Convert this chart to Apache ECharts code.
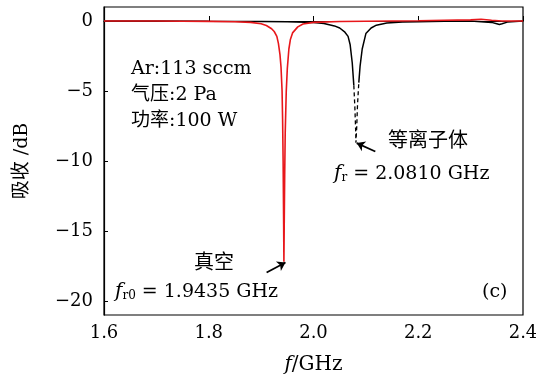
<!DOCTYPE html>
<html>
<head>
<meta charset="utf-8">
<script src="https://cdn.jsdelivr.net/npm/echarts@6/dist/echarts.min.js"></script>
<style>
html, body { margin: 0; padding: 0; background: #fff; }
#chart { width: 536px; height: 378px; }
</style>
</head>
<body>
<div id="chart"></div>
<script>
// 真空 (red) 频率 / 吸收
var redF = [1.60, 1.65, 1.70, 1.75, 1.80, 1.85, 1.88, 1.90, 1.91, 1.92, 1.925, 1.93, 1.933, 1.936, 1.938, 1.940, 1.941, 1.942, 1.943, 1.9435, 1.944, 1.945, 1.946, 1.948, 1.950, 1.953, 1.956, 1.96, 1.97, 1.98, 2.00, 2.05, 2.10, 2.15, 2.20, 2.25, 2.30, 2.32, 2.34, 2.36, 2.38, 2.40];
var redDb = [0, 0, 0, -0.02, -0.03, -0.05, -0.1, -0.2, -0.32, -0.55, -0.75, -1.1, -1.6, -2.4, -3.3, -5.0, -7.0, -10.0, -14.5, -17.2, -15.0, -11.0, -8.0, -5.0, -3.4, -2.0, -1.3, -0.85, -0.42, -0.22, -0.1, -0.04, -0.02, 0, 0.02, 0.05, 0.08, 0.12, 0.05, 0, 0, 0];

// 等离子体 (black)
var blackF = [1.60, 1.70, 1.80, 1.90, 1.95, 2.00, 2.02, 2.04, 2.05, 2.06, 2.066, 2.07, 2.074, 2.077, 2.079, 2.0805, 2.081, 2.0825, 2.084, 2.0865, 2.089, 2.093, 2.10, 2.11, 2.12, 2.14, 2.17, 2.20, 2.25, 2.30, 2.34, 2.35, 2.355, 2.36, 2.37, 2.40];
var blackDb = [0, 0, -0.02, -0.03, -0.05, -0.1, -0.18, -0.35, -0.5, -0.8, -1.1, -1.7, -3.0, -4.6, -6.2, -7.8, -8.7, -7.6, -6.0, -4.4, -3.2, -2.0, -0.9, -0.5, -0.3, -0.15, -0.08, -0.05, -0.02, 0, -0.1, -0.2, -0.25, -0.2, -0.08, 0];

var xTicks = [1.6, 1.8, 2.0, 2.2, 2.4];
var yTicks = [-20, -15, -10, -5, 0];

var serif = '"DejaVu Serif", "Liberation Serif", serif';
var cjk = '"DejaVu Serif", "Noto Sans CJK SC", serif';

function pairs(f, v) {
	return f.map(function (x, i) { return [x, v[i]]; });
}
// 黑线: 实线部分 与 虚线部分 (稀疏采样段)
var blackSolid = blackF.map(function (x, i) { return [x, blackDb[i] > -5 ? blackDb[i] : null]; });
var blackDash = blackF.map(function (x, i) { return [x, blackDb[i] < -4 ? blackDb[i] : null]; });

var chart = echarts.init(document.getElementById('chart'));

var richLabel = {
	i: { fontFamily: serif, fontStyle: 'italic', fontSize: 20, fill: '#000' },
	s: { fontFamily: serif, fontSize: 12, fill: '#000', padding: [8, 0, 0, 0] },
	n: { fontFamily: serif, fontSize: 19, fill: '#000' }
};

var option = {
	animation: false,
	grid: {
		left: 104,
		right: 13,
		top: 7,
		bottom: 63,
		outerBoundsMode: 'none',
		show: true,
		borderColor: '#000',
		borderWidth: 1.2
	},
	xAxis: {
		type: 'value',
		min: 1.6,
		max: 2.4,
		interval: 0.2,
		name: '{i|f}{n|/GHz}',
		nameLocation: 'middle',
		nameGap: 40,
		nameTextStyle: {
			rich: {
				i: { fontFamily: serif, fontSize: 20, fontStyle: 'italic', color: '#000' },
				n: { fontFamily: serif, fontSize: 20, color: '#000' }
			}
		},
		axisLine: { lineStyle: { color: '#000', width: 1.2 } },
		axisTick: { inside: true, length: 5, lineStyle: { color: '#000' } },
		splitLine: { show: false },
		axisLabel: {
			color: '#000',
			fontFamily: serif,
			fontSize: 18,
			margin: 9,
			formatter: function (v) { return v.toFixed(1); }
		}
	},
	yAxis: {
		type: 'value',
		min: -21,
		max: 1,
		name: '吸收 /dB',
		nameLocation: 'middle',
		nameGap: 72,
		nameTextStyle: { color: '#000', fontFamily: cjk, fontSize: 19 },
		axisLine: { lineStyle: { color: '#000', width: 1.2 } },
		axisTick: { inside: true, length: 4, lineStyle: { color: '#000' }, customValues: yTicks },
		splitLine: { show: false },
		axisLabel: {
			color: '#000',
			fontFamily: serif,
			fontSize: 18,
			margin: 11,
			customValues: yTicks,
			formatter: function (v) { return String(v).replace('-', '\u2212'); }
		}
	},
	series: [{
		name: '等离子体',
		type: 'line',
		showSymbol: false,
		data: blackSolid,
		connectNulls: false,
		lineStyle: { color: '#000', width: 1.5 },
		markLine: {
			silent: true,
			symbol: ['none', 'arrow'],
			symbolSize: 8,
			label: { show: false },
			lineStyle: { color: '#000', width: 1.8, type: 'solid' },
			data: [[{ coord: [2.118, -9.32] }, { coord: [2.0825, -8.72] }]]
		},
		z: 2
	}, {
		name: '等离子体虚线',
		type: 'line',
		showSymbol: false,
		data: blackDash,
		connectNulls: false,
		lineStyle: { color: '#000', width: 1.3, type: [4, 3] },
		z: 2
	}, {
		name: '真空',
		type: 'line',
		showSymbol: false,
		data: pairs(redF, redDb),
		lineStyle: { color: '#e8171b', width: 1.6 },
		markLine: {
			silent: true,
			symbol: ['none', 'arrow'],
			symbolSize: 8,
			label: { show: false },
			lineStyle: { color: '#000', width: 1.8, type: 'solid' },
			data: [[{ coord: [1.9105, -17.96] }, { coord: [1.9465, -17.25] }]]
		},
		z: 3
	}],
	graphic: [
		{ type: 'text', x: 131, y: 69, style: { text: 'Ar:113 sccm', font: '19px ' + cjk, fill: '#000', verticalAlign: 'middle' } },
		{ type: 'text', x: 131, y: 95, style: { text: '气压:2 Pa', font: '19px ' + cjk, fill: '#000', verticalAlign: 'middle' } },
		{ type: 'text', x: 131, y: 121, style: { text: '功率:100 W', font: '19px ' + cjk, fill: '#000', verticalAlign: 'middle' } },
		{ type: 'text', x: 388, y: 142, style: { text: '等离子体', font: '20px ' + cjk, fill: '#000', verticalAlign: 'middle' } },
		{
			type: 'text', x: 334, y: 174,
			style: { text: '{i|f}{s|r}{n| = 2.0810 GHz}', verticalAlign: 'middle', rich: richLabel }
		},
		{ type: 'text', x: 194, y: 264, style: { text: '真空', font: '20px ' + cjk, fill: '#000', verticalAlign: 'middle' } },
		{
			type: 'text', x: 115, y: 292,
			style: { text: '{i|f}{s|r0}{n| = 1.9435 GHz}', verticalAlign: 'middle', rich: richLabel }
		},
		{ type: 'text', x: 482, y: 292, style: { text: '(c)', font: '19px ' + serif, fill: '#000', verticalAlign: 'middle' } }
	]
};
chart.setOption(option);
</script>
</body>
</html>
